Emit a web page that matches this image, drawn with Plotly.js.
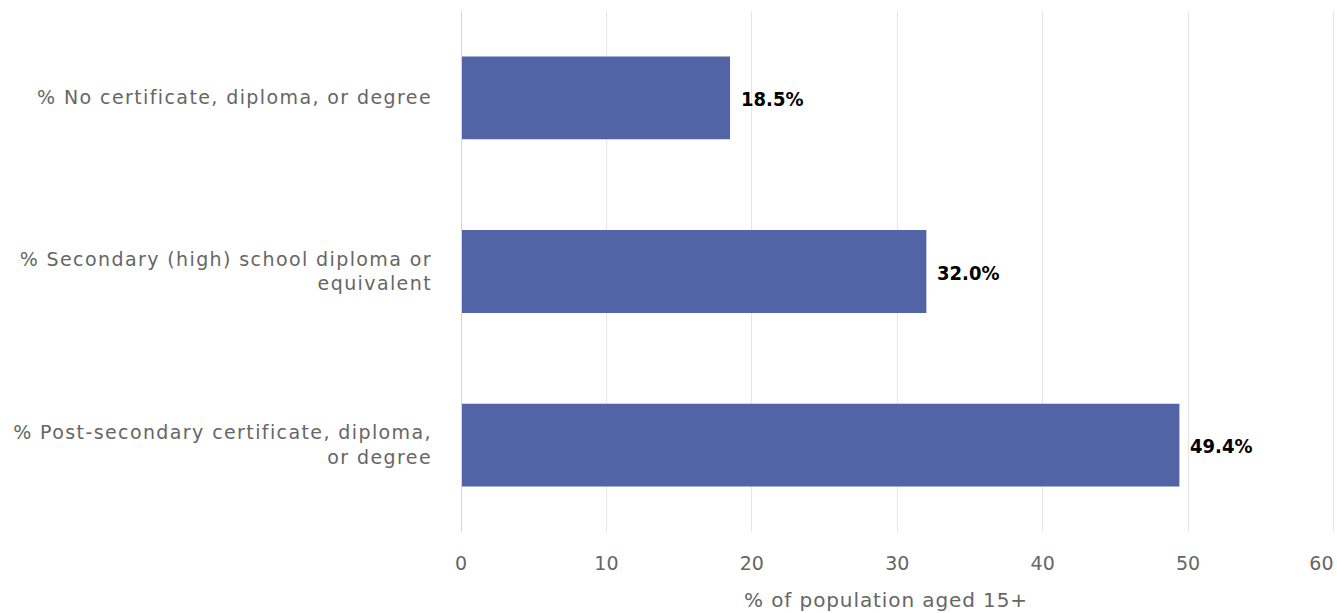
<!DOCTYPE html>
<html>
<head>
<meta charset="utf-8">
<script src="https://cdn.plot.ly/plotly-3.0.1.min.js"></script>
<style>
html,body{margin:0;padding:0;background:#fff;}
#chart{width:1337px;height:613px;}
#chart .ytick text{letter-spacing:1.4px;}
#chart .xtitle{letter-spacing:0.9px;}
</style>
</head>
<body>
<div id="chart"></div>
<script>
var categories = [
  "% No certificate, diploma, or degree",
  "% Secondary (high) school diploma or<br>equivalent",
  "% Post-secondary certificate, diploma,<br>or degree"
];
var values = [18.5, 32.0, 49.4];
var valueLabels = values.map(function (v) { return v.toFixed(1) + "%"; });
var xTickVals = [0, 10, 20, 30, 40, 50, 60];
var xTitle = "% of population aged 15+";

var FONT = "DejaVu Sans, Verdana, sans-serif";
var LABEL_FONT = "DejaVu Sans Condensed, DejaVu Sans, sans-serif";

var trace = {
  type: "bar",
  orientation: "h",
  y: categories,
  x: values,
  marker: {color: "#5263a6", line: {width: 0}},
  width: 0.477,
  hoverinfo: "none"
};

var annotations = values.map(function (v, i) {
  return {
    x: v, y: categories[i], xref: "x", yref: "y",
    text: valueLabels[i], showarrow: false,
    xanchor: "left", yanchor: "middle", xshift: 9, yshift: -1,
    font: {family: LABEL_FONT, size: 20, color: "#000000", weight: "bold"}
  };
});

var layout = {
  width: 1337,
  height: 613,
  margin: {l: 461, r: 2, t: 11, b: 81},
  paper_bgcolor: "#ffffff",
  plot_bgcolor: "#ffffff",
  showlegend: false,
  font: {family: FONT, size: 19, color: "#666666"},
  xaxis: {
    range: [0, 60.1],
    tickvals: xTickVals,
    ticktext: xTickVals.map(String),
    showgrid: true,
    gridcolor: "#e6e6e6",
    gridwidth: 1,
    zeroline: false,
    showline: false,
    ticks: "",
    ticklabelstandoff: 18,
    ticklabeloverflow: "allow",
    tickfont: {family: FONT, size: 19, color: "#666666"},
    title: {text: xTitle, font: {family: FONT, size: 20, color: "#666666"}, standoff: 19},
    fixedrange: true
  },
  yaxis: {
    autorange: "reversed",
    showgrid: false,
    zeroline: false,
    showline: false,
    ticks: "",
    ticklabelstandoff: 28,
    tickfont: {family: FONT, size: 19, color: "#666666"},
    fixedrange: true
  },
  annotations: annotations,
  shapes: [{
    type: "line", xref: "x", yref: "paper",
    x0: 0, x1: 0, y0: 0, y1: 1,
    line: {color: "#ccd6eb", width: 2}
  }]
};

Plotly.newPlot("chart", [trace], layout, {displayModeBar: false, staticPlot: true}).then(function (gd) {
  // keep the last x tick label inside the chart, right-aligned to its tick (as in the reference)
  var ticks = gd.querySelectorAll(".xtick text");
  if (ticks.length) {
    ticks[ticks.length - 1].setAttribute("text-anchor", "end");
  }
  // the reference centres the axis title slightly left of the plot centre
  var t = gd.querySelector(".xtitle");
  if (t) {
    var x = parseFloat(t.getAttribute("x"));
    if (!isNaN(x)) t.setAttribute("x", x - 12);
  }
});
</script>
</body>
</html>
